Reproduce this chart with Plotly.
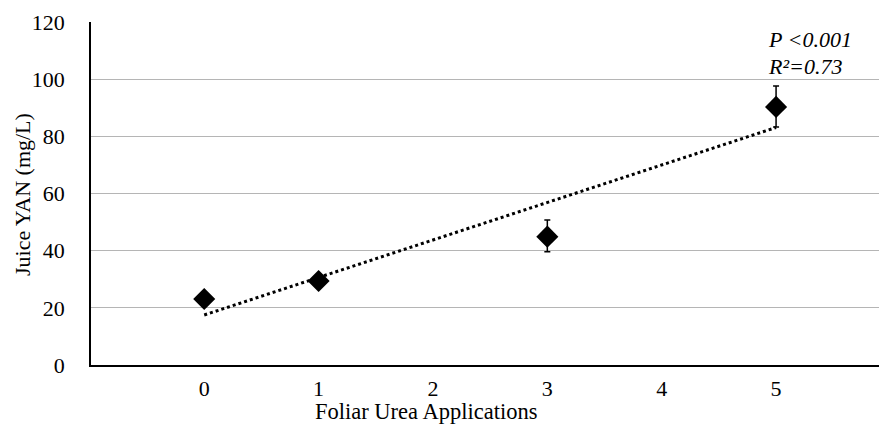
import plotly.graph_objects as go

applications = [0, 1, 3, 5]
yan = [23.1, 29.4, 44.9, 90.3]
err_plus = [1.5, 1.5, 5.8, 7.3]
err_minus = [1.5, 1.5, 5.3, 7.0]
trend_x = [0, 5]
trend_y = [17.5, 83.1]
x_ticks = [0, 1, 2, 3, 4, 5]
y_ticks = [0, 20, 40, 60, 80, 100, 120]
x_title = "Foliar Urea Applications"
y_title = "Juice YAN (mg/L)"

font = "Liberation Serif, Times New Roman, serif"
fs = 22

fig = go.Figure()
fig.add_trace(go.Scatter(
    x=trend_x, y=trend_y, mode="lines",
    line=dict(color="black", width=3, dash="dot"),
    showlegend=False, hoverinfo="skip"))
fig.add_trace(go.Scatter(
    x=applications, y=yan, mode="markers",
    marker=dict(symbol="diamond", size=17, color="black"),
    error_y=dict(type="data", array=err_plus, arrayminus=err_minus,
                 color="black", thickness=1.5, width=3),
    showlegend=False))

fig.add_annotation(x=4.91, y=114.0, xref="x", yref="y", text="<i>P <0.001</i>",
                   showarrow=False, xanchor="left", yanchor="middle",
                   font=dict(family=font, size=fs, color="black"))
fig.add_annotation(x=4.91, y=104.3, xref="x", yref="y", text="<i>R²=0.73</i>",
                   showarrow=False, xanchor="left", yanchor="middle",
                   font=dict(family=font, size=fs, color="black"))
# axis titles
fig.add_annotation(x=1.94, y=-0.137, xref="x", yref="paper", text=x_title,
                   showarrow=False, xanchor="center", yanchor="middle",
                   font=dict(family=font, size=22.5, color="black"))
fig.add_annotation(x=-0.0876, y=59.8, xref="paper", yref="y", text=y_title,
                   textangle=-90, showarrow=False, xanchor="center", yanchor="middle",
                   font=dict(family=font, size=22, color="black"))

fig.update_layout(
    width=881, height=427,
    margin=dict(l=91, r=2, t=22, b=62, autoexpand=False),
    paper_bgcolor="white", plot_bgcolor="white",
    font=dict(family=font, size=fs, color="black"),
    xaxis=dict(range=[-0.99, 5.9], tickvals=x_ticks, ticktext=[str(v) for v in x_ticks],
               showgrid=False, zeroline=False, showline=True, linecolor="black",
               linewidth=1.5, ticks="", ticklabelstandoff=3, automargin=False,
               tickfont=dict(family=font, size=fs)),
    yaxis=dict(range=[0, 120], tickvals=y_ticks, showgrid=True, gridcolor="#b5b5b5",
               gridwidth=1.2, zeroline=False, showline=True, linecolor="black",
               linewidth=1.5, ticks="", ticklabelstandoff=20, automargin=False,
               tickfont=dict(family=font, size=fs)),
)

fig.write_html("out.html", config={"displayModeBar": False},
               post_script="document.body.style.margin='0';document.body.style.overflow='hidden';")
